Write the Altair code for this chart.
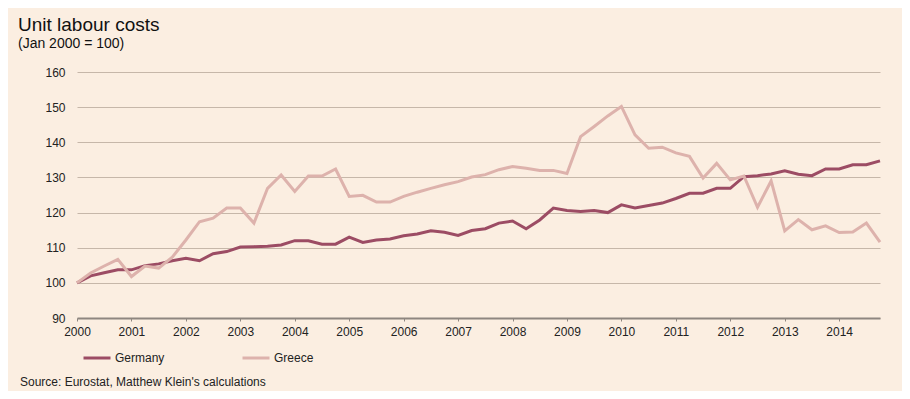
import altair as alt
import pandas as pd

# Quarterly data, 2000 Q1 .. 2014 Q4 (index, Jan 2000 = 100)
years = [2000 + q / 4 for q in range(60)]

germany = [100, 102, 102.9, 103.7, 103.7, 104.9, 105.4, 106.3, 107, 106.3,
           108.3, 108.9, 110.2, 110.3, 110.4, 110.8, 112, 112, 111, 111,
           113, 111.5, 112.2, 112.5, 113.4, 113.9, 114.8, 114.4, 113.5, 114.9,
           115.4, 117, 117.6, 115.4, 117.9, 121.3, 120.6, 120.3, 120.6, 120,
           122.2, 121.3, 122, 122.7, 124, 125.5, 125.5, 126.9, 126.9, 130.2,
           130.5, 131, 131.9, 130.9, 130.5, 132.4, 132.4, 133.6, 133.6, 134.7]

greece = [100, 102.8, 104.8, 106.7, 101.8, 104.8, 104.2, 107.3, 112.2, 117.4,
          118.4, 121.3, 121.3, 117, 126.9, 130.7, 126, 130.4, 130.4, 132.4,
          124.6, 124.9, 123, 123, 124.6, 125.8, 126.9, 127.9, 128.8, 130.1,
          130.8, 132.2, 133.1, 132.6, 132, 132, 131.1, 141.6, 144.5, 147.5,
          150.2, 142.1, 138.3, 138.6, 137, 136, 129.8, 134, 129.3, 130.4,
          121.5, 129, 114.8, 118, 115.1, 116.2, 114.3, 114.5, 117, 111.6]

series_names = ["Germany", "Greece"]
series_colors = ["#9C4C64", "#DDB2AC"]
year_ticks = list(range(2000, 2015))
y_ticks = [90, 100, 110, 120, 130, 140, 150, 160]

df = pd.DataFrame({
    "year": years * 2,
    "value": germany + greece,
    "series": ["Germany"] * len(germany) + ["Greece"] * len(greece),
})

lines = alt.Chart(df).mark_line(strokeWidth=3).encode(
    x=alt.X("year:Q",
            scale=alt.Scale(domain=[2000, 2014.75], nice=False, zero=False),
            axis=alt.Axis(values=year_ticks, format="d", title=None, grid=False,
                          domain=True, domainColor="#8E8680", domainWidth=2,
                          ticks=True, tickSize=3, tickColor="#8E8680",
                          labelFontSize=12, labelColor="#222222", labelPadding=5,
                          labelFlush=False, labelFont="Liberation Sans")),
    y=alt.Y("value:Q",
            scale=alt.Scale(domain=[90, 160], nice=False, zero=False),
            axis=alt.Axis(values=y_ticks, title=None, grid=True, gridColor="#C6B7A9",
                          gridWidth=1, domain=False, ticks=False,
                          labelFontSize=12, labelColor="#222222", labelPadding=12,
                          labelFont="Liberation Sans")),
    color=alt.Color("series:N",
                    scale=alt.Scale(domain=series_names, range=series_colors),
                    legend=alt.Legend(title=None, orient="none", legendX=5, legendY=271,
                                      direction="horizontal", symbolType="stroke",
                                      symbolSize=729, symbolStrokeWidth=3,
                                      labelFontSize=12, labelFont="Liberation Sans",
                                      labelColor="#222222", labelOffset=3,
                                      columnPadding=71)),
)

source = alt.Chart(pd.DataFrame({"t": ["Source: Eurostat, Matthew Klein's calculations"]})).mark_text(
    align="left", baseline="middle", fontSize=12, font="Liberation Sans", color="#222222"
).encode(
    text="t:N",
    x=alt.value(-57),
    y=alt.value(310),
)

chart = alt.layer(lines, source).properties(
    width=803,
    height=246,
    autosize=alt.AutoSizeParams(type="none"),
    padding={"left": 69, "top": 64, "right": 22, "bottom": 73},
    background="#FBEEE1",
    title=alt.TitleParams(
        text="Unit labour costs",
        subtitle="(Jan 2000 = 100)",
        anchor="start",
        frame="group",
        dx=-59,
        offset=15,
        fontSize=19,
        fontWeight="normal",
        font="Liberation Sans",
        color="#111111",
        subtitleFontSize=14,
        subtitleFont="Liberation Sans",
        subtitleColor="#111111",
        subtitlePadding=2,
    ),
).configure_view(stroke=None)

chart.save("out.html", embed_options={"renderer": "svg", "actions": False})
